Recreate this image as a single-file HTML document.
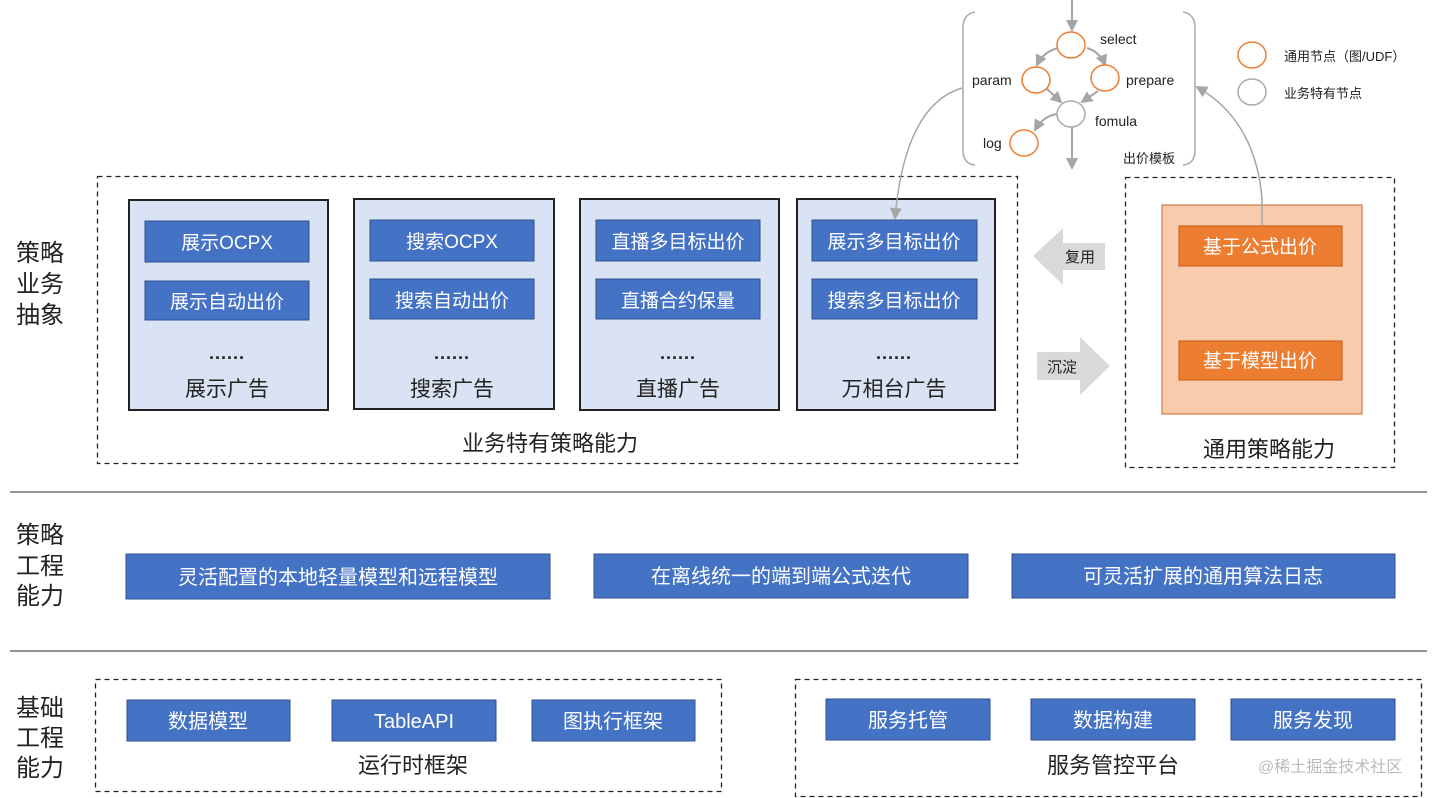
<!DOCTYPE html>
<html><head><meta charset="utf-8"><style>
html,body{margin:0;padding:0;background:#fff;}
svg{display:block;}
text{font-family:"Liberation Sans","Noto Sans CJK SC",sans-serif;}
</style></head><body>
<svg width="1440" height="798" viewBox="0 0 1440 798" xmlns="http://www.w3.org/2000/svg">
<defs>
<marker id="ah" markerWidth="12" markerHeight="12" refX="10" refY="6" orient="auto" markerUnits="userSpaceOnUse">
<path d="M0,0 L12,6 L0,12 Z" fill="#a6a6a6"/></marker>
</defs>
<!-- left labels -->
<g font-size="24" fill="#222">
<text x="16" y="261">策略</text><text x="16" y="292">业务</text><text x="16" y="323">抽象</text>
<text x="16" y="543">策略</text><text x="16" y="574">工程</text><text x="16" y="604">能力</text>
<text x="16" y="716">基础</text><text x="16" y="746">工程</text><text x="16" y="776">能力</text>
</g>
<!-- dividers -->
<line x1="10" y1="492" x2="1427" y2="492" stroke="#555" stroke-width="1.2"/>
<line x1="10" y1="651" x2="1427" y2="651" stroke="#555" stroke-width="1.2"/>

<!-- top template -->
<path d="M975,12 Q963,14 963,28 L963,150 Q963,164 975,165" fill="none" stroke="#aaa" stroke-width="1.5"/>
<path d="M1183,12 Q1195,14 1195,28 L1195,150 Q1195,164 1183,165" fill="none" stroke="#aaa" stroke-width="1.5"/>
<line x1="1072" y1="0" x2="1072" y2="30" stroke="#a6a6a6" stroke-width="2" marker-end="url(#ah)"/>
<line x1="1072" y1="127" x2="1072" y2="168" stroke="#a6a6a6" stroke-width="2" marker-end="url(#ah)"/>
<path d="M1058,48 Q1043,52 1037,65" fill="none" stroke="#a6a6a6" stroke-width="2" marker-end="url(#ah)"/>
<path d="M1087,48 Q1100,52 1105,65" fill="none" stroke="#a6a6a6" stroke-width="2" marker-end="url(#ah)"/>
<path d="M1047,89 L1061,102" fill="none" stroke="#a6a6a6" stroke-width="2" marker-end="url(#ah)"/>
<path d="M1098,91 L1082,102" fill="none" stroke="#a6a6a6" stroke-width="2" marker-end="url(#ah)"/>
<path d="M1057,114 Q1043,116 1035,130" fill="none" stroke="#a6a6a6" stroke-width="2" marker-end="url(#ah)"/>
<g fill="#fff" stroke-width="1.5">
<ellipse cx="1071" cy="45" rx="14" ry="13" stroke="#ed7d31"/>
<ellipse cx="1036" cy="80" rx="14" ry="13" stroke="#ed7d31"/>
<ellipse cx="1105" cy="78" rx="14" ry="13" stroke="#ed7d31"/>
<ellipse cx="1071" cy="114" rx="14" ry="13" stroke="#aaa"/>
<ellipse cx="1024" cy="143" rx="14" ry="13" stroke="#ed7d31"/>
<ellipse cx="1252" cy="55" rx="14" ry="13" stroke="#ed7d31"/>
<ellipse cx="1252" cy="92" rx="14" ry="13" stroke="#aaa"/>
</g>
<g font-size="14" fill="#222">
<text x="1100" y="44">select</text>
<text x="972" y="85">param</text>
<text x="1126" y="85">prepare</text>
<text x="1095" y="126">fomula</text>
<text x="983" y="148">log</text>
<text x="1123" y="163" font-size="13">出价模板</text>
<text x="1284" y="61" font-size="13">通用节点（图/UDF）</text>
<text x="1284" y="98" font-size="13">业务特有节点</text>
</g>

<!-- business dashed -->
<rect x="97.5" y="176.5" width="920" height="287" fill="none" stroke="#222" stroke-width="1.3" stroke-dasharray="5,4"/>
<g stroke="#222" stroke-width="2" fill="#dae3f3">
<rect x="129" y="200" width="199" height="210"/>
<rect x="354" y="199" width="200" height="210"/>
<rect x="580" y="199" width="199" height="211"/>
<rect x="797" y="199" width="198" height="211"/>
</g>
<g fill="#4472c4" stroke="#2f528f" stroke-width="1">
<rect x="145" y="221" width="164" height="41"/><rect x="145" y="281" width="164" height="39"/>
<rect x="370" y="220" width="164" height="41"/><rect x="370" y="279" width="164" height="40"/>
<rect x="596" y="220" width="164" height="41"/><rect x="596" y="279" width="164" height="40"/>
<rect x="812" y="220" width="165" height="41"/><rect x="812" y="279" width="165" height="40"/>
</g>
<g font-size="19" fill="#fff" text-anchor="middle">
<text x="227" y="249">展示OCPX</text><text x="227" y="308">展示自动出价</text>
<text x="452" y="248">搜索OCPX</text><text x="452" y="307">搜索自动出价</text>
<text x="678" y="248">直播多目标出价</text><text x="678" y="307">直播合约保量</text>
<text x="894" y="248">展示多目标出价</text><text x="894" y="307">搜索多目标出价</text>
</g>
<g font-size="21" fill="#222" text-anchor="middle">
<text x="227" y="364" font-weight="bold" font-size="18">······</text><text x="452" y="364" font-weight="bold" font-size="18">······</text><text x="678" y="364" font-weight="bold" font-size="18">······</text><text x="894" y="364" font-weight="bold" font-size="18">······</text>
<text x="227" y="396">展示广告</text><text x="452" y="396">搜索广告</text><text x="678" y="396">直播广告</text><text x="894" y="396">万相台广告</text>
<text x="550" y="451" font-size="22">业务特有策略能力</text>
</g>
<!-- arrows reuse/settle -->
<path d="M1033,256 L1063,228 L1063,243 L1105,243 L1105,270 L1063,270 L1063,285 Z" fill="#d9d9d9"/>
<text x="1080" y="262" font-size="15" fill="#222" text-anchor="middle">复用</text>
<path d="M1037,352 L1080,352 L1080,337 L1110,366 L1080,395 L1080,380 L1037,380 Z" fill="#d9d9d9"/>
<text x="1062" y="372" font-size="15" fill="#222" text-anchor="middle">沉淀</text>
<!-- general dashed -->
<rect x="1125.5" y="177.5" width="269" height="290" fill="none" stroke="#222" stroke-width="1.3" stroke-dasharray="5,4"/>
<rect x="1162" y="205" width="200" height="209" fill="#f8cbad" stroke="#d07a45" stroke-width="1.2"/>
<rect x="1179" y="226" width="163" height="40" fill="#ed7d31" stroke="#c55a11"/>
<rect x="1179" y="341" width="163" height="39" fill="#ed7d31" stroke="#c55a11"/>
<g font-size="19" fill="#fff" text-anchor="middle">
<text x="1260" y="253">基于公式出价</text><text x="1260" y="367">基于模型出价</text>
</g>
<text x="1269" y="457" font-size="22" fill="#222" text-anchor="middle">通用策略能力</text>

<!-- curved connectors (on top) -->
<path d="M962,88 Q905,105 895,218" fill="none" stroke="#a6a6a6" stroke-width="1.5" marker-end="url(#ah)"/>
<path d="M1262,226 L1262,198 Q1255,120 1197,87" fill="none" stroke="#a6a6a6" stroke-width="1.5" marker-end="url(#ah)"/>

<!-- row 2 -->
<g fill="#4472c4" stroke="#2f528f" stroke-width="1">
<rect x="126" y="554" width="424" height="45"/>
<rect x="594" y="554" width="374" height="44"/>
<rect x="1012" y="554" width="383" height="44"/>
</g>
<g font-size="20" fill="#fff" text-anchor="middle">
<text x="338" y="584">灵活配置的本地轻量模型和远程模型</text>
<text x="781" y="583">在离线统一的端到端公式迭代</text>
<text x="1203" y="583">可灵活扩展的通用算法日志</text>
</g>

<!-- row 3 -->
<rect x="95.5" y="679.5" width="626" height="112" fill="none" stroke="#222" stroke-width="1.3" stroke-dasharray="5,4"/>
<rect x="795.5" y="679.5" width="626" height="117" fill="none" stroke="#222" stroke-width="1.3" stroke-dasharray="5,4"/>
<g fill="#4472c4" stroke="#2f528f" stroke-width="1">
<rect x="127" y="700" width="163" height="41"/>
<rect x="332" y="700" width="164" height="41"/>
<rect x="532" y="700" width="163" height="41"/>
<rect x="826" y="699" width="164" height="41"/>
<rect x="1031" y="699" width="164" height="41"/>
<rect x="1231" y="699" width="164" height="41"/>
</g>
<g font-size="20" fill="#fff" text-anchor="middle">
<text x="208" y="728">数据模型</text>
<text x="414" y="728">TableAPI</text>
<text x="613" y="728">图执行框架</text>
<text x="908" y="727">服务托管</text>
<text x="1113" y="727">数据构建</text>
<text x="1313" y="727">服务发现</text>
</g>
<g font-size="22" fill="#222" text-anchor="middle">
<text x="413" y="773">运行时框架</text>
<text x="1113" y="773">服务管控平台</text>
</g>
<text x="1258" y="772" font-size="16" fill="#bbb">@稀土掘金技术社区</text>
</svg>
</body></html>
